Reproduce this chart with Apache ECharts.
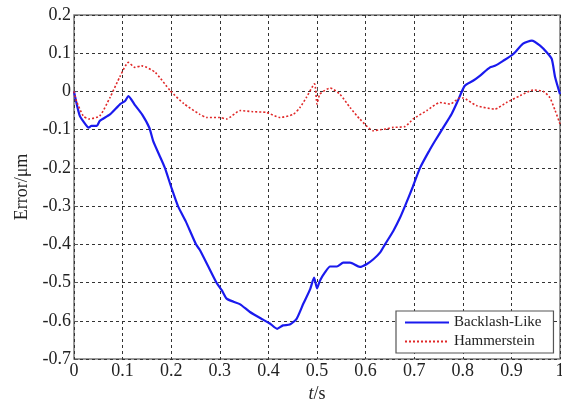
<!DOCTYPE html>
<html>
<head>
<meta charset="utf-8">
<script src="https://cdn.jsdelivr.net/npm/echarts@6/dist/echarts.min.js"></script>
<style>
  html, body { margin: 0; padding: 0; background: #fff; }
  #chart { width: 562px; height: 403px; }
</style>
</head>
<body>
<div id="chart"></div>
<script>
// Time samples (s) and tracking error (μm) for each model
const blueT = [0, 0.012, 0.026, 0.03, 0.036, 0.047, 0.053, 0.074, 0.095, 0.105, 0.112,
  0.125, 0.14, 0.155, 0.163, 0.175, 0.187, 0.2, 0.214, 0.23, 0.251, 0.259, 0.275,
  0.293, 0.304, 0.314, 0.328, 0.342, 0.362, 0.389, 0.403, 0.418, 0.43, 0.444, 0.458,
  0.472, 0.486, 0.494, 0.5, 0.506, 0.516, 0.527, 0.541, 0.554, 0.568, 0.588, 0.602,
  0.616, 0.63, 0.64, 0.657, 0.671, 0.681, 0.697, 0.712, 0.731, 0.743, 0.76, 0.777,
  0.79, 0.804, 0.821, 0.835, 0.856, 0.866, 0.883, 0.904, 0.924, 0.942, 0.959, 0.973,
  0.983, 0.99, 1.0];
const blueE = [0, -0.064, -0.09, -0.095, -0.09, -0.09, -0.077, -0.06, -0.033, -0.025, -0.012,
  -0.035, -0.06, -0.095, -0.13, -0.165, -0.2, -0.25, -0.3, -0.34, -0.4, -0.415, -0.455,
  -0.5, -0.52, -0.542, -0.55, -0.557, -0.577, -0.597, -0.607, -0.621, -0.612, -0.61, -0.595,
  -0.555, -0.517, -0.487, -0.515, -0.495, -0.474, -0.458, -0.458, -0.448, -0.448, -0.459, -0.452,
  -0.439, -0.421, -0.4, -0.365, -0.33, -0.3, -0.25, -0.2, -0.155, -0.129, -0.094, -0.059,
  -0.024, 0.015, 0.028, 0.041, 0.063, 0.067, 0.08, 0.098, 0.125, 0.133, 0.12, 0.102,
  0.085, 0.037, -0.007];

const redT = [0, 0.005, 0.019, 0.03, 0.053, 0.074, 0.095, 0.112, 0.125, 0.139, 0.167,
  0.198, 0.226, 0.259, 0.273, 0.3, 0.314, 0.342, 0.368, 0.396, 0.424, 0.451, 0.465,
  0.478, 0.495, 0.5, 0.506, 0.527, 0.547, 0.568, 0.588, 0.616, 0.63, 0.643, 0.657,
  0.681, 0.698, 0.726, 0.753, 0.774, 0.794, 0.8, 0.828, 0.866, 0.89, 0.918, 0.945,
  0.966, 0.979, 0.99, 1.0];
const redE = [0, -0.025, -0.064, -0.072, -0.064, -0.016, 0.04, 0.076, 0.063, 0.067, 0.05,
  0.002, -0.032, -0.06, -0.068, -0.068, -0.072, -0.05, -0.053, -0.055, -0.068, -0.06, -0.042,
  -0.016, 0.02, -0.033, -0.007, 0.009, -0.007, -0.042, -0.072, -0.103, -0.1, -0.098, -0.094,
  -0.092, -0.072, -0.05, -0.029, -0.033, -0.017, -0.017, -0.037, -0.046, -0.029, -0.011, 0.004,
  0, -0.016, -0.05, -0.085];

const seriesNames = ['Backlash-Like', 'Hammerstein'];
const xTicks = { min: 0, max: 1, step: 0.1 };
const yTicks = { min: -0.7, max: 0.2, step: 0.1 };

const pairs = (xs, ys) => xs.map((x, i) => [x, ys[i]]);
const fmt = v => String(parseFloat(v.toFixed(1)));
const serif = '"Liberation Serif", "Times New Roman", serif';

const chart = echarts.init(document.getElementById('chart'), null, { renderer: 'canvas' });
chart.setOption({
  animation: false,
  grid: {
    left: 74, right: 2, top: 15, bottom: 44,
    outerBoundsMode: 'none',
    show: true, borderColor: '#7a7a7a', borderWidth: 1.5, backgroundColor: '#fff'
  },
  xAxis: {
    type: 'value', min: xTicks.min, max: xTicks.max, interval: xTicks.step,
    name: '{i|t}/s', nameLocation: 'middle', nameGap: 24,
    nameTextStyle: {
      fontFamily: serif, fontSize: 18, color: '#222',
      rich: { i: { fontFamily: serif, fontSize: 18, fontStyle: 'italic', color: '#222' } }
    },
    axisLine: { show: false },
    axisTick: { show: true, inside: true, length: 4, lineStyle: { color: '#555' } },
    axisLabel: { fontFamily: serif, fontSize: 18, color: '#222', margin: 3, formatter: fmt },
    splitLine: { show: true, lineStyle: { color: '#333', type: [3, 3], width: 1 } }
  },
  yAxis: {
    type: 'value', min: yTicks.min, max: yTicks.max, interval: yTicks.step,
    name: 'Error/μm', nameLocation: 'middle', nameGap: 43,
    nameTextStyle: { fontFamily: serif, fontSize: 18, color: '#222' },
    axisLine: { show: false },
    axisTick: { show: true, inside: true, length: 4, lineStyle: { color: '#555' } },
    axisLabel: { fontFamily: serif, fontSize: 18, color: '#222', margin: 3, formatter: fmt },
    splitLine: { show: true, lineStyle: { color: '#333', type: [3, 3], width: 1 } }
  },
  legend: {
    orient: 'vertical', left: 396, top: 311,
    itemWidth: 44, itemHeight: 10, itemGap: 4,
    padding: [4, 12, 4, 8],
    backgroundColor: '#fff', borderColor: '#555', borderWidth: 1.2,
    itemStyle: { opacity: 0 },
    textStyle: { fontFamily: serif, fontSize: 15, color: '#222' },
    data: seriesNames
  },
  series: [
    {
      name: seriesNames[0], type: 'line', data: pairs(blueT, blueE),
      showSymbol: false, symbol: 'none', smooth: 0.2,
      lineStyle: { color: '#1a1aee', width: 2.2 }, itemStyle: { color: '#1a1aee' }
    },
    {
      name: seriesNames[1], type: 'line', data: pairs(redT, redE),
      showSymbol: false, symbol: 'none', smooth: 0.2,
      lineStyle: { color: '#e02828', width: 1.6, type: [2, 2] }, itemStyle: { color: '#e02828' }
    }
  ]
});
</script>
</body>
</html>
